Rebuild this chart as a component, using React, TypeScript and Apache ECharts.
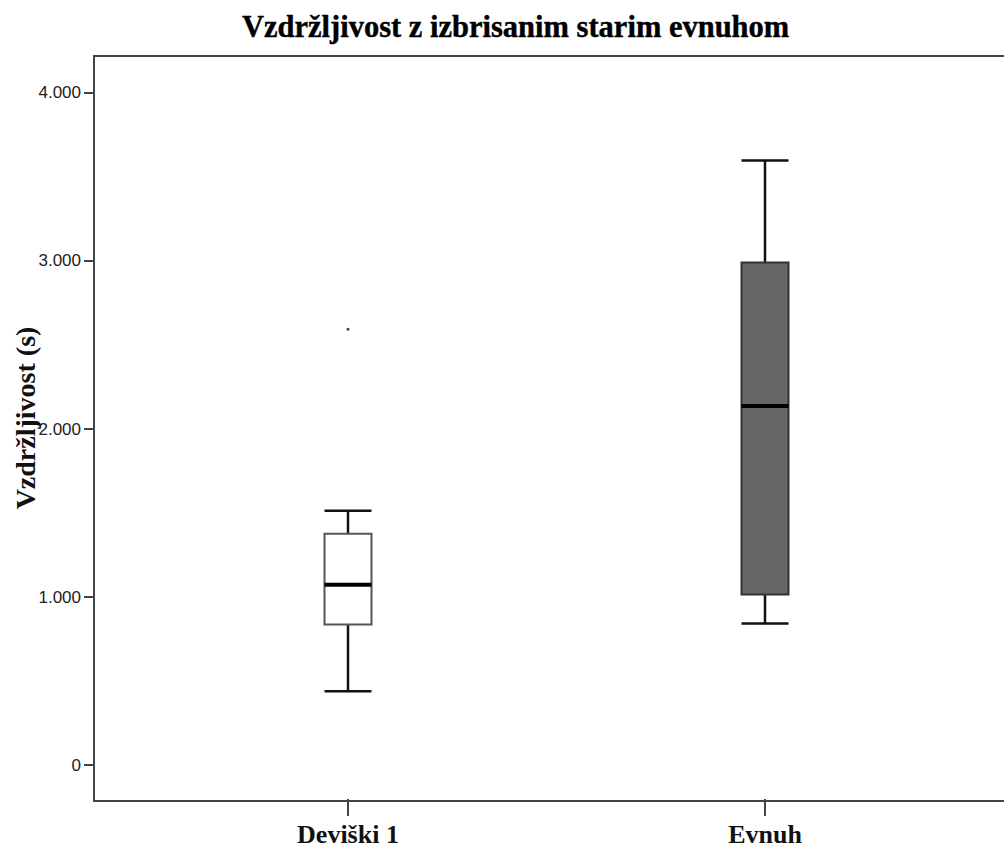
import React, { useEffect, useRef } from "react";
import * as echarts from "echarts";

const categories = ["Deviški 1", "Evnuh"];
// [min whisker, Q1, median, Q3, max whisker]
const boxStats = [
  [429, 827, 1065, 1369, 1506],
  [833, 1006, 2131, 2988, 3597],
];
const outliers = [[0, 2589]];
const yTicks = [0, 1000, 2000, 3000, 4000];
const yTickLabels = ["0", "1.000", "2.000", "3.000", "4.000"];
const titleText = "Vzdržljivost z izbrisanim starim evnuhom";
const yName = "Vzdržljivost (s)";

const boxFills = ["#ffffff", "#666666"];
const boxBorders = ["#555555", "#333333"];

export default function App() {
  const ref = useRef<HTMLDivElement>(null);
  useEffect(() => {
    if (!ref.current) return;
    const chart = echarts.init(ref.current, null, { renderer: "svg" });
    const yMin = -214;
    const yMax = 4220;
    const axisColor = "#444444";
    const labelMap: Record<number, string> = {};
    yTicks.forEach((t, i) => (labelMap[t] = yTickLabels[i]));
    const option: any = {
      animation: false,
      backgroundColor: "#ffffff",
      title: {
        text: titleText,
        left: 237,
        top: 6,
        textStyle: {
          fontFamily: "Liberation Serif",
          fontWeight: "bold",
          fontSize: 30.5,
          color: "#000000",
          textBorderColor: "#000000",
          textBorderWidth: 0.4,
        },
      },
      grid: [
        { left: 94, top: 56, right: -20, bottom: 46 },
        { left: 139.5, top: 56, width: 834, bottom: 46 },
      ],
      xAxis: [
        {
          gridIndex: 0,
          type: "value",
          min: 0,
          max: 1,
          position: "bottom",
          axisLine: { show: true, onZero: false, lineStyle: { color: axisColor, width: 2 } },
          axisTick: { show: false },
          axisLabel: { show: false },
          splitLine: { show: false },
        },
        {
          gridIndex: 0,
          type: "value",
          min: 0,
          max: 1,
          position: "top",
          axisLine: { show: true, onZero: false, lineStyle: { color: axisColor, width: 2 } },
          axisTick: { show: false },
          axisLabel: { show: false },
          splitLine: { show: false },
        },
        {
          gridIndex: 1,
          type: "category",
          data: categories,
          boundaryGap: true,
          position: "bottom",
          axisLine: { show: false, onZero: false },
          axisTick: {
            show: true,
            alignWithLabel: true,
            length: 17,
            lineStyle: { color: axisColor, width: 2 },
          },
          axisLabel: {
            margin: 22,
            fontFamily: "Liberation Serif",
            fontWeight: "bold",
            fontSize: 26,
            color: "#111111",
          },
          splitLine: { show: false },
        },
      ],
      yAxis: [
        {
          gridIndex: 0,
          type: "value",
          min: yMin,
          max: yMax,
          axisLine: { show: true, onZero: false, lineStyle: { color: axisColor, width: 2 } },
          axisTick: {
            show: true,
            length: 10,
            customValues: yTicks,
            lineStyle: { color: axisColor, width: 2 },
          },
          axisLabel: {
            show: true,
            margin: 13,
            customValues: yTicks,
            formatter: (v: number) => labelMap[v] ?? "",
            fontFamily: "Liberation Sans",
            fontSize: 17,
            color: "#222222",
          },
          splitLine: { show: false },
        },
        {
          gridIndex: 1,
          type: "value",
          min: yMin,
          max: yMax,
          show: false,
          axisLine: { onZero: false },
          splitLine: { show: false },
        },
      ],
      graphic: [
        {
          type: "text",
          x: 25,
          y: 418,
          rotation: Math.PI / 2,
          style: {
            text: yName,
            fontFamily: "Liberation Serif",
            fontWeight: "bold",
            fontSize: 28,
            fill: "#111111",
            align: "center",
            verticalAlign: "middle",
          },
        },
      ],
      series: [
        {
          type: "custom",
          xAxisIndex: 2,
          yAxisIndex: 1,
          data: boxStats.map((s, i) => [i, ...s]),
          encode: { x: 0, y: [1, 2, 3, 4, 5] },
          renderItem: (params: any, api: any) => {
            const idx = api.value(0);
            const lo = api.coord([idx, api.value(1)]);
            const q1 = api.coord([idx, api.value(2)]);
            const med = api.coord([idx, api.value(3)]);
            const q3 = api.coord([idx, api.value(4)]);
            const hi = api.coord([idx, api.value(5)]);
            const cx = lo[0];
            const half = 23.5;
            const wStyle = { stroke: "#111111", lineWidth: 2.5 };
            return {
              type: "group",
              children: [
                { type: "line", shape: { x1: cx, y1: hi[1], x2: cx, y2: q3[1] }, style: wStyle },
                { type: "line", shape: { x1: cx, y1: q1[1], x2: cx, y2: lo[1] }, style: wStyle },
                { type: "line", shape: { x1: cx - half, y1: hi[1], x2: cx + half, y2: hi[1] }, style: wStyle },
                { type: "line", shape: { x1: cx - half, y1: lo[1], x2: cx + half, y2: lo[1] }, style: wStyle },
                {
                  type: "rect",
                  shape: { x: cx - half, y: q3[1], width: half * 2, height: q1[1] - q3[1] },
                  style: { fill: boxFills[idx], stroke: boxBorders[idx], lineWidth: 2 },
                },
                {
                  type: "line",
                  shape: { x1: cx - half, y1: med[1], x2: cx + half, y2: med[1] },
                  style: { stroke: "#000000", lineWidth: 4 },
                },
              ],
            };
          },
        },
        {
          type: "scatter",
          xAxisIndex: 2,
          yAxisIndex: 1,
          data: outliers,
          symbol: "circle",
          symbolSize: 3,
          itemStyle: { color: "#111111" },
        },
      ],
    };
    chart.setOption(option);
    return () => chart.dispose();
  }, []);
  return (
    <div
      ref={ref}
      style={{ position: "absolute", left: 0, top: 0, width: 1004, height: 847 }}
    />
  );
}
